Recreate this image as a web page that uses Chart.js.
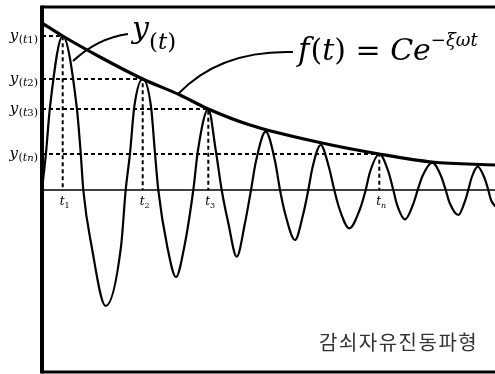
<!DOCTYPE html>
<html>
<head>
<meta charset="utf-8">
<script src="https://cdn.jsdelivr.net/npm/chart.js@4/dist/chart.umd.min.js"></script>
<style>
  html, body { margin: 0; padding: 0; background: #fff; }
  #wrap { width: 495px; height: 374px; position: relative; }
</style>
</head>
<body>
<div id="wrap"><canvas id="wave"></canvas></div>
<script>
// damped free vibration (t: horizontal, y: displacement)
const waveT = [0, 4, 8, 20.7, 34.7, 38.7, 41.3, 49.7, 63.7, 79, 83.7, 88, 92.3, 100.7, 109, 113, 116.3,
    125.3, 134, 142.3, 151.3, 156, 166.3, 173.7, 179.7, 186.3, 194.7, 203, 209, 214, 223.7, 233, 238,
    243.5, 253, 261, 266.3, 270.5, 278.7, 287, 292.3, 297.5, 307.3, 318, 323.7, 328, 337.3, 346.5, 351.3,
    355, 363, 371, 375.7, 380.5, 390.3, 399, 403.7, 407.5, 416.3, 422.5, 426.3, 429.5, 435.7, 442.5, 446.3,
    449, 455];
const waveY = [0, 37, 83, 154, 83, 37, 0, -56.7, -116, -56.7, 0, 36.7, 83.3, 111, 83.3, 36.7, 0,
    -56.7, -87, -56.7, 0, 40, 81, 40, 0, -33, -66.7, -33, 0, 29, 58.3, 29, 0,
    -25, -50, -25, 0, 22.5, 45, 22.5, 0, -19, -38.3, -19, 0, 18, 36, 18, 0,
    -14.6, -29.3, -14.6, 0, 14, 27.3, 14, 0, -12.5, -25, -12.5, 0, 12, 23.3, 12, 0,
    -10, -18];

// envelope f(t) = C e^(-xi w t)
const envT = [0, 20.7, 58, 100.7, 138, 166.3, 208, 280, 337.3, 390, 453];
const envY = [167, 154, 133, 111, 95, 81, 65, 47, 36, 28, 25];

// marked peaks t1, t2, t3, tn
const markT = [20.7, 100.7, 166.3, 337.3];
const markY = [154, 111, 81, 36];
const markSub = ['t1', 't2', 't3', 'tn'];

const xRange = [0, 453];
const yRange = [-182, 183];

// leader lines for the two callouts (start, control, end)
const leaderY = [[31, 129], [56, 152], [86, 156]];
const leaderF = [[136, 96], [178, 140], [251, 138]];

const toPts = (xs, ys) => xs.map((x, i) => ({ x, y: ys[i] }));

const datasets = [];
datasets.push({ data: toPts(waveT, waveY), borderColor: '#000', borderWidth: 2.2, cubicInterpolationMode: 'monotone' });
datasets.push({ data: toPts(envT, envY), borderColor: '#000', borderWidth: 3.2, cubicInterpolationMode: 'monotone' });
datasets.push({ data: toPts(xRange, [0, 0]), borderColor: '#000', borderWidth: 1.5 });
markT.forEach((t, i) => {
    datasets.push({
        data: [{ x: xRange[0], y: markY[i] }, { x: t, y: markY[i] }, { x: t, y: 0 }],
        borderColor: '#000', borderWidth: 2, borderDash: [4, 3]
    });
});

const serif = "'DejaVu Serif', serif";

function drawRuns(ctx, x, base, parts) {
    parts.forEach(p => {
        ctx.font = p.f;
        ctx.fillText(p.s, x, base + (p.dy || 0));
        x += ctx.measureText(p.s).width + (p.gap || 0);
    });
}
function runsWidth(ctx, parts) {
    let w = 0;
    parts.forEach(p => { ctx.font = p.f; w += ctx.measureText(p.s).width + (p.gap || 0); });
    return w;
}

const decor = {
    id: 'decor',
    afterDatasetsDraw(chart) {
        const { ctx, chartArea: a, scales: { x, y } } = chart;
        ctx.save();
        ctx.strokeStyle = '#000';
        ctx.fillStyle = '#000';
        ctx.lineCap = 'butt';

        // frame
        ctx.lineWidth = 4;
        ctx.beginPath(); ctx.moveTo(a.left, a.top - 1.5); ctx.lineTo(a.left, a.bottom + 1.5); ctx.stroke();
        ctx.lineWidth = 3;
        ctx.beginPath(); ctx.moveTo(a.left, a.top); ctx.lineTo(a.right, a.top); ctx.stroke();
        ctx.beginPath(); ctx.moveTo(a.left, a.bottom); ctx.lineTo(a.right, a.bottom); ctx.stroke();

        // leader curves
        ctx.lineWidth = 2;
        [leaderY, leaderF].forEach(L => {
            const p = L.map(q => [x.getPixelForValue(q[0]), y.getPixelForValue(q[1])]);
            ctx.beginPath();
            ctx.moveTo(p[0][0], p[0][1]);
            ctx.quadraticCurveTo(p[1][0], p[1][1], p[2][0], p[2][1]);
            ctx.stroke();
        });

        ctx.textAlign = 'left';
        ctx.textBaseline = 'alphabetic';

        // y(tk) labels on the left, t_k labels under the axis
        markT.forEach((t, i) => {
            const py = y.getPixelForValue(markY[i]);
            const sub = markSub[i];
            const parts = [
                { s: 'y', f: `italic 15px ${serif}`, gap: 0.5 },
                { s: '(', f: `11px ${serif}`, dy: 3 },
                { s: 't', f: `italic 11px ${serif}`, dy: 3 },
                { s: sub.slice(1), f: (sub[1] === 'n' ? 'italic ' : '') + `10px ${serif}`, dy: 3 },
                { s: ')', f: `11px ${serif}`, dy: 3 }
            ];
            drawRuns(ctx, a.left - 4 - runsWidth(ctx, parts), py + 4, parts);

            const px = x.getPixelForValue(t);
            drawRuns(ctx, px - 3, y.getPixelForValue(0) + 15, [
                { s: 't', f: `italic 12px ${serif}` },
                { s: sub.slice(1), f: (sub[1] === 'n' ? 'italic ' : '') + `8px ${serif}`, dy: 3 }
            ]);
        });

        // callout: y(t)
        drawRuns(ctx, 132, 38, [
            { s: 'y', f: `italic 30px ${serif}`, gap: 0 },
            { s: '(', f: `23px ${serif}`, dy: 11 },
            { s: 't', f: `italic 23px ${serif}`, dy: 11 },
            { s: ')', f: `23px ${serif}`, dy: 11 }
        ]);

        // callout: f(t) = C e^(-xi w t)
        drawRuns(ctx, 298, 60, [
            { s: 'f', f: `italic 31px ${serif}`, gap: 1 },
            { s: '(', f: `30px ${serif}` },
            { s: 't', f: `italic 30px ${serif}` },
            { s: ') = ', f: `30px ${serif}` },
            { s: 'Ce', f: `italic 30px ${serif}` },
            { s: '\u2212', f: `18px ${serif}`, dy: -14 },
            { s: '\u03BE\u03C9t', f: `italic 18px ${serif}`, dy: -14 }
        ]);

        // caption
        ctx.fillStyle = '#333';
        ctx.font = "20px 'Noto Sans CJK KR', sans-serif";
        ctx.letterSpacing = '1.5px';
        ctx.textAlign = 'left';
        ctx.textBaseline = 'middle';
        ctx.fillText('감쇠자유진동파형', 319, 342);
        ctx.restore();
    }
};

new Chart(document.getElementById('wave'), {
    type: 'line',
    data: { datasets },
    options: {
        responsive: true,
        maintainAspectRatio: false,
        animation: false,
        parsing: false,
        layout: { padding: { left: 42, top: 7, right: 0, bottom: 2 } },
        elements: { point: { radius: 0 }, line: { tension: 0, fill: false } },
        plugins: { legend: { display: false }, tooltip: { enabled: false } },
        scales: {
            x: { type: 'linear', display: false, min: xRange[0], max: xRange[1] },
            y: { type: 'linear', display: false, min: yRange[0], max: yRange[1] }
        }
    },
    plugins: [decor]
});
</script>
</body>
</html>
